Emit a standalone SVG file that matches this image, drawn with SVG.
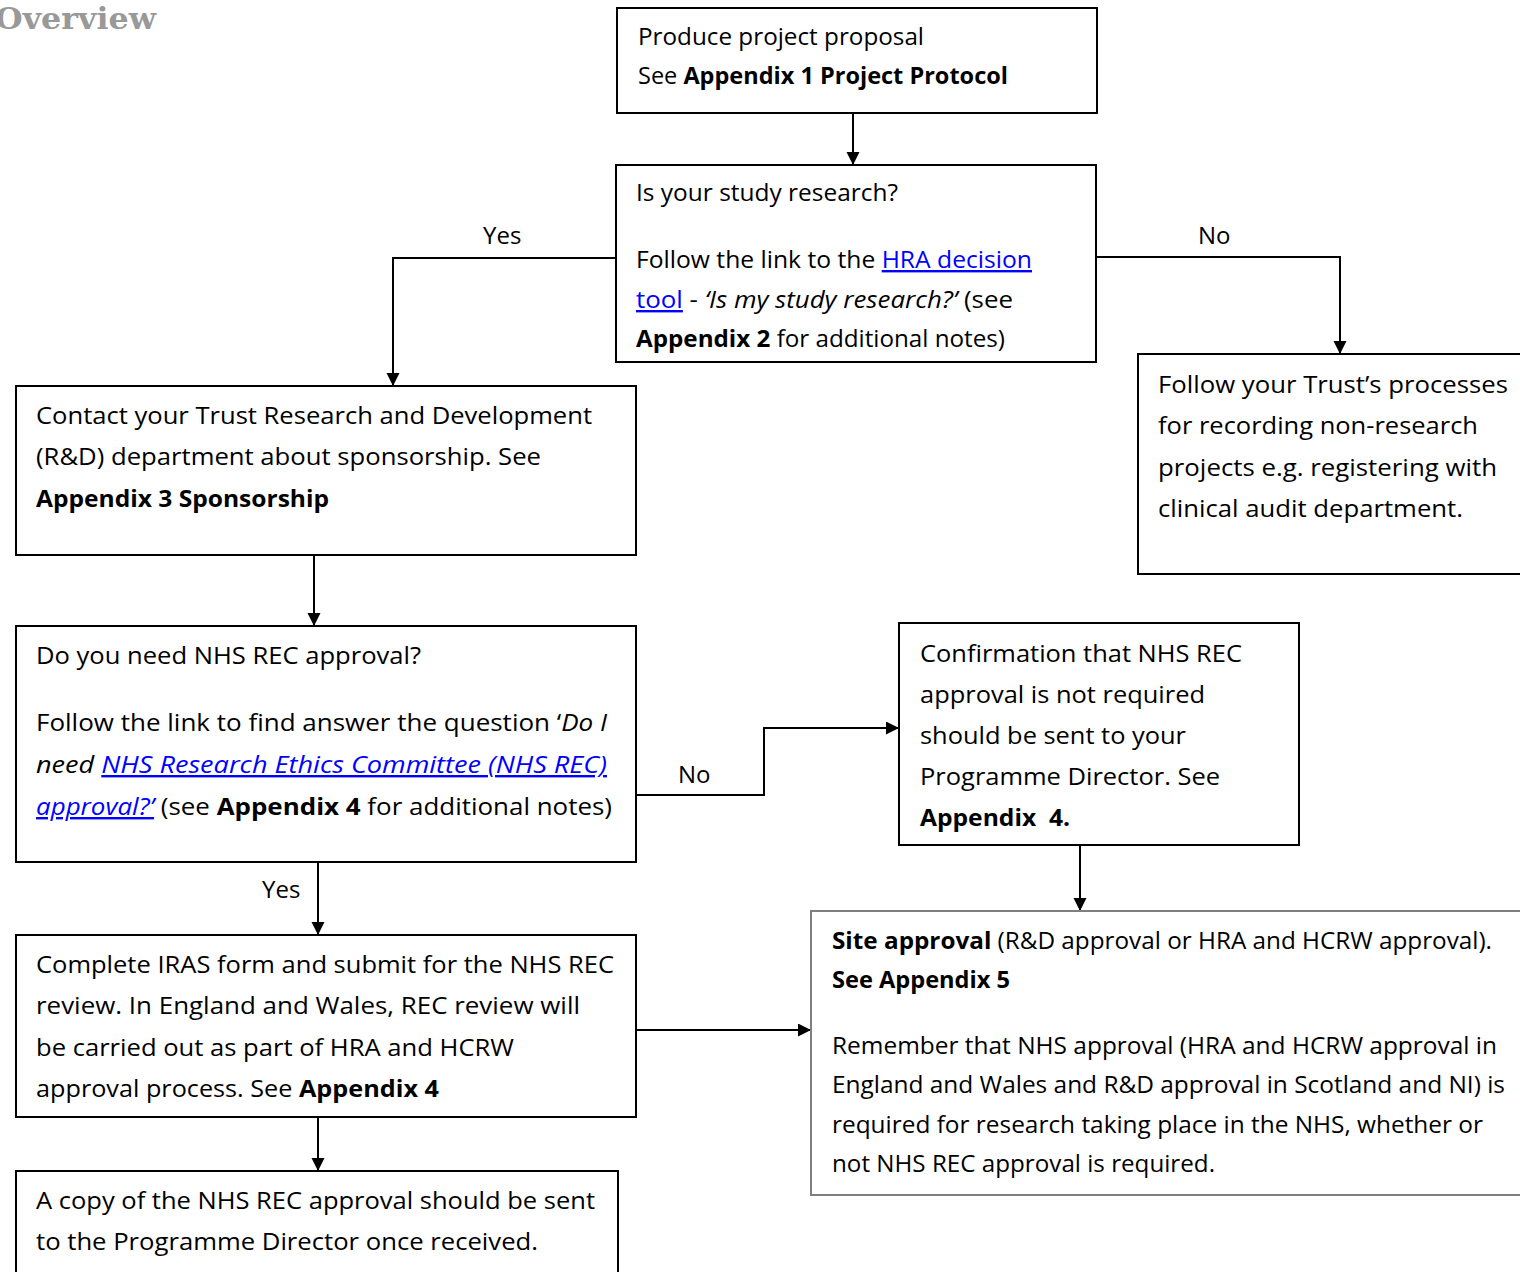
<svg xmlns="http://www.w3.org/2000/svg" width="1520" height="1272" viewBox="0 0 1520 1272">
<style>
.bg{fill:#fff}
.box{fill:#fff;stroke:#000;stroke-width:2}
.gbox{fill:#fff;stroke:#7f7f7f;stroke-width:2}
.t{font-family:"Open Sans","Liberation Sans",sans-serif;font-size:24px;fill:#000}
.b{font-weight:bold}
.i{font-style:italic}
.lk{fill:#0000ff;text-decoration:underline}
.c{fill:none;stroke:#000;stroke-width:2}
.ov{font-family:"DejaVu Serif","Liberation Serif",serif;font-weight:bold;font-size:30px;fill:#999}
</style>
<defs>
<marker id="ah" markerUnits="userSpaceOnUse" markerWidth="14" markerHeight="14" refX="13" refY="6.5" orient="auto">
<path d="M0,0 L13,6.5 L0,13 z" fill="#000"/>
</marker>
</defs>
<rect class="bg" x="0" y="0" width="1520" height="1272"/>
<text class="ov" x="-5" y="29" textLength="161" lengthAdjust="spacingAndGlyphs">Overview</text>

<g id="connectors">
<path class="c" d="M853,113 V165" marker-end="url(#ah)"/>
<path class="c" d="M616,258 H393 V386" marker-end="url(#ah)"/>
<path class="c" d="M1097,257 H1340 V354" marker-end="url(#ah)"/>
<path class="c" d="M314,555 V626" marker-end="url(#ah)"/>
<path class="c" d="M636,795 H764 V728 H899" marker-end="url(#ah)"/>
<path class="c" d="M318,862 V935" marker-end="url(#ah)"/>
<path class="c" d="M1080,845 V911" marker-end="url(#ah)"/>
<path class="c" d="M636,1030 H811" marker-end="url(#ah)"/>
<path class="c" d="M318,1117 V1171" marker-end="url(#ah)"/>
<text class="t" x="483" y="244">Yes</text>
<text class="t" x="1198" y="244">No</text>
<text class="t" x="678" y="783">No</text>
<text class="t" x="262" y="898">Yes</text>
</g>

<g id="n1">
<rect class="box" x="617" y="8" width="480" height="105"/>
<text class="t" x="638" y="45" textLength="286" lengthAdjust="spacingAndGlyphs">Produce project proposal</text>
<text class="t" x="638" y="84" textLength="370" lengthAdjust="spacingAndGlyphs">See <tspan class="b">Appendix 1 Project Protocol</tspan></text>
</g>

<g id="n2">
<rect class="box" x="616" y="165" width="480" height="197"/>
<text class="t" x="636" y="201" textLength="262" lengthAdjust="spacingAndGlyphs">Is your study research?</text>
<text class="t" x="636" y="268" textLength="396" lengthAdjust="spacingAndGlyphs">Follow the link to the <tspan class="lk">HRA decision</tspan></text>
<text class="t" x="636" y="308" textLength="377" lengthAdjust="spacingAndGlyphs"><tspan class="lk">tool</tspan> - <tspan class="i">‘Is my study research?’</tspan> (see</text>
<text class="t" x="636" y="347" textLength="369" lengthAdjust="spacingAndGlyphs"><tspan class="b">Appendix 2</tspan> for additional notes)</text>
</g>

<g id="n3">
<rect class="box" x="1138" y="354" width="392" height="220"/>
<text class="t" x="1158" y="393" textLength="350" lengthAdjust="spacingAndGlyphs">Follow your Trust’s processes</text>
<text class="t" x="1158" y="434" textLength="320" lengthAdjust="spacingAndGlyphs">for recording non-research</text>
<text class="t" x="1158" y="476" textLength="339" lengthAdjust="spacingAndGlyphs">projects e.g. registering with</text>
<text class="t" x="1158" y="517" textLength="305" lengthAdjust="spacingAndGlyphs">clinical audit department.</text>
</g>

<g id="n4">
<rect class="box" x="16" y="386" width="620" height="169"/>
<text class="t" x="36" y="424" textLength="556" lengthAdjust="spacingAndGlyphs">Contact your Trust Research and Development</text>
<text class="t" x="36" y="465" textLength="505" lengthAdjust="spacingAndGlyphs">(R&amp;D) department about sponsorship. See</text>
<text class="t" x="36" y="507" textLength="293" lengthAdjust="spacingAndGlyphs"><tspan class="b">Appendix 3 Sponsorship</tspan></text>
</g>

<g id="n5">
<rect class="box" x="16" y="626" width="620" height="236"/>
<text class="t" x="36" y="664" textLength="385" lengthAdjust="spacingAndGlyphs">Do you need NHS REC approval?</text>
<text class="t" x="36" y="731" textLength="571" lengthAdjust="spacingAndGlyphs">Follow the link to find answer the question ‘<tspan class="i">Do I</tspan></text>
<text class="t" x="36" y="773" textLength="571" lengthAdjust="spacingAndGlyphs"><tspan class="i">need </tspan><tspan class="i lk">NHS Research Ethics Committee (NHS REC)</tspan></text>
<text class="t" x="36" y="815" textLength="576" lengthAdjust="spacingAndGlyphs"><tspan class="i lk">approval?’</tspan> (see <tspan class="b">Appendix 4</tspan> for additional notes)</text>
</g>

<g id="n6">
<rect class="box" x="899" y="623" width="400" height="222"/>
<text class="t" x="920" y="662" textLength="322" lengthAdjust="spacingAndGlyphs">Confirmation that NHS REC</text>
<text class="t" x="920" y="703" textLength="285" lengthAdjust="spacingAndGlyphs">approval is not required</text>
<text class="t" x="920" y="744" textLength="266" lengthAdjust="spacingAndGlyphs">should be sent to your</text>
<text class="t" x="920" y="785" textLength="300" lengthAdjust="spacingAndGlyphs">Programme Director. See</text>
<text class="t" x="920" y="826" textLength="150" lengthAdjust="spacingAndGlyphs"><tspan class="b">Appendix&#160; 4.</tspan></text>
</g>

<g id="n7">
<rect class="box" x="16" y="935" width="620" height="182"/>
<text class="t" x="36" y="973" textLength="578" lengthAdjust="spacingAndGlyphs">Complete IRAS form and submit for the NHS REC</text>
<text class="t" x="36" y="1014" textLength="544" lengthAdjust="spacingAndGlyphs">review. In England and Wales, REC review will</text>
<text class="t" x="36" y="1056" textLength="478" lengthAdjust="spacingAndGlyphs">be carried out as part of HRA and HCRW</text>
<text class="t" x="36" y="1097" textLength="403" lengthAdjust="spacingAndGlyphs">approval process. See <tspan class="b">Appendix 4</tspan></text>
</g>

<g id="n8">
<rect class="gbox" x="811" y="911" width="719" height="284"/>
<text class="t" x="832" y="949" textLength="660" lengthAdjust="spacingAndGlyphs"><tspan class="b">Site approval</tspan> (R&amp;D approval or HRA and HCRW approval).</text>
<text class="t" x="832" y="988" textLength="178" lengthAdjust="spacingAndGlyphs"><tspan class="b">See Appendix 5</tspan></text>
<text class="t" x="832" y="1054" textLength="665" lengthAdjust="spacingAndGlyphs">Remember that NHS approval (HRA and HCRW approval in</text>
<text class="t" x="832" y="1093" textLength="673" lengthAdjust="spacingAndGlyphs">England and Wales and R&amp;D approval in Scotland and NI) is</text>
<text class="t" x="832" y="1133" textLength="651" lengthAdjust="spacingAndGlyphs">required for research taking place in the NHS, whether or</text>
<text class="t" x="832" y="1172" textLength="383" lengthAdjust="spacingAndGlyphs">not NHS REC approval is required.</text>
</g>

<g id="n9">
<rect class="box" x="16" y="1171" width="602" height="120"/>
<text class="t" x="36" y="1209" textLength="559" lengthAdjust="spacingAndGlyphs">A copy of the NHS REC approval should be sent</text>
<text class="t" x="36" y="1250" textLength="502" lengthAdjust="spacingAndGlyphs">to the Programme Director once received.</text>
</g>
</svg>
